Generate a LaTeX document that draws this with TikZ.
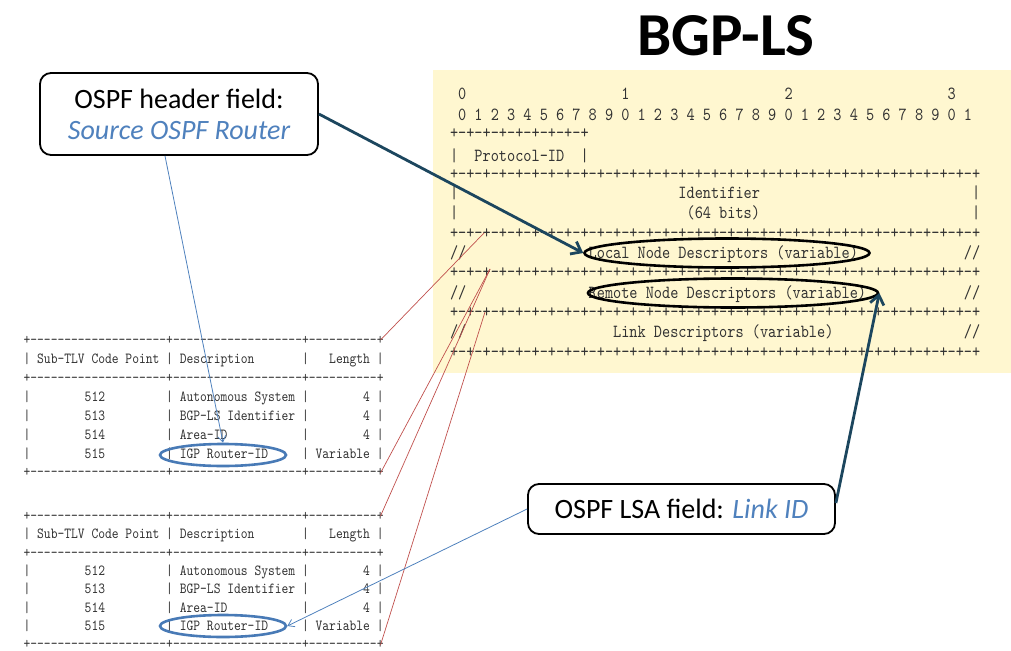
\documentclass[tikz,border=0pt]{standalone}
\usepackage{fontspec}
\setmainfont{Carlito}
\newfontfamily\asciifont{lmmono10-regular.otf}[FakeStretch=0.84,Ligatures=TeXOff]
\usetikzlibrary{shapes.geometric,arrows.meta}

\definecolor{panelyellow}{RGB}{255,247,208}
\definecolor{arrowteal}{RGB}{28,70,94}
\definecolor{linkblue}{RGB}{79,129,189}
\definecolor{ovalblue}{RGB}{72,122,182}
\definecolor{mapred}{RGB}{192,80,77}
\definecolor{asciigray}{RGB}{50,50,50}

% monospaced text: every space is exactly one character cell wide
\newcommand\monoset[1]{\asciifont\fontsize{#1}{#1}\selectfont
  \setbox0=\hbox{0}\fontdimen2\font=\wd0 \fontdimen3\font=0pt \fontdimen4\font=0pt \fontdimen7\font=0pt }
\newcommand\gap[1]{\hspace*{#1\fontdimen2\font}}
\newcommand\bitrule{+-+-+-+-+-+-+-+-+-+-+-+-+-+-+-+-+-+-+-+-+-+-+-+-+-+-+-+-+-+-+-+-+}
\newcommand\tblrule{+--------------------+-------------------+----------+}

\begin{document}
\begin{tikzpicture}[x=1pt,y=-1pt,
  yrow/.style={anchor=base west,inner sep=0pt,outer sep=0pt,text=asciigray,font=\monoset{18.5}},
  trow/.style={anchor=base west,inner sep=0pt,outer sep=0pt,text=asciigray,font=\monoset{15.4}},
  blackoval/.style={draw=black,line width=2.6pt,ellipse,inner sep=0pt},
  blueoval/.style={draw=ovalblue,line width=2.6pt,ellipse,inner sep=0pt},
  callout/.style={draw=black,line width=1.8pt,rounded corners=11pt,fill=white,align=center,inner sep=0pt,font=\fontsize{28}{31}\selectfont},
  bigarrow/.style={draw=arrowteal,line width=2.8pt,-{Straight Barb[length=9pt,width=14pt]}},
  thinarrow/.style={draw=linkblue,line width=0.8pt,-{Straight Barb[length=6pt,width=8pt]}},
  redline/.style={draw=mapred,line width=0.7pt}]
\useasboundingbox (0,0) rectangle (1011,650);

% yellow panel holding the BGP-LS NLRI layout
\fill[panelyellow] (433,70) rectangle (1011,373);
\node[font=\bfseries\fontsize{61}{61}\selectfont] (title) at (726,36) {BGP-LS};

% NLRI bit layout
\node[yrow] (hdrA) at (450,99.5) {\gap{1}0\gap{19}1\gap{19}2\gap{19}3};
\node[yrow] (hdrB) at (450,120.5) {\gap{1}0 1 2 3 4 5 6 7 8 9 0 1 2 3 4 5 6 7 8 9 0 1 2 3 4 5 6 7 8 9 0 1};
\node[yrow] (r1) at (450,138.5) {+-+-+-+-+-+-+-+-+};
\node[yrow] (proto) at (450,161.5) {|\gap{2}Protocol-ID\gap{2}|};
\node[yrow] (r2) at (450,179.5) {\bitrule};
\node[yrow] (ident) at (450,198.5) {|\gap{27}Identifier\gap{26}|};
\node[yrow] (bits) at (450,218.5) {|\gap{28}(64 bits)\gap{26}|};
\node[yrow] (r3) at (450,238.5) {\bitrule};
\node[yrow] (local) at (450,258.5) {//\gap{15}Local Node Descriptors (variable)\gap{13}//};
\node[yrow] (r4) at (450,277.5) {\bitrule};
\node[yrow] (remote) at (450,298.5) {//\gap{15}Remote Node Descriptors (variable)\gap{12}//};
\node[yrow] (r5) at (450,317.5) {\bitrule};
\node[yrow] (link) at (450,337.5) {//\gap{18}Link Descriptors (variable)\gap{16}//};
\node[yrow] (r6) at (450,357.5) {\bitrule};

\node[blackoval,minimum width=285pt,minimum height=29pt] (locEll) at (727,253) {};
\node[blackoval,minimum width=290pt,minimum height=29pt] (remEll) at (733,293) {};

% node descriptor sub-TLV tables
\node[trow] (ta0) at (23.6,344.6) {\tblrule};
\node[trow] (ta1) at (23.6,363.5) {|\gap{1}Sub-TLV Code Point\gap{1}|\gap{1}Description\gap{7}|\gap{3}Length\gap{1}|};
\node[trow] (ta2) at (23.6,382.4) {\tblrule};
\node[trow] (ta3) at (23.6,401.3) {|\gap{8}512\gap{9}|\gap{1}Autonomous System\gap{1}|\gap{8}4\gap{1}|};
\node[trow] (ta4) at (23.6,420.2) {|\gap{8}513\gap{9}|\gap{1}BGP-LS Identifier\gap{1}|\gap{8}4\gap{1}|};
\node[trow] (ta5) at (23.6,439.1) {|\gap{8}514\gap{9}|\gap{1}Area-ID\gap{11}|\gap{8}4\gap{1}|};
\node[trow] (ta6) at (23.6,458.0) {|\gap{8}515\gap{9}|\gap{1}IGP Router-ID\gap{5}|\gap{1}Variable\gap{1}|};
\node[trow] (ta7) at (23.6,476.9) {\tblrule};

\node[trow] (tb0) at (23.6,520.6) {\tblrule};
\node[trow] (tb1) at (23.6,538.9) {|\gap{1}Sub-TLV Code Point\gap{1}|\gap{1}Description\gap{7}|\gap{3}Length\gap{1}|};
\node[trow] (tb2) at (23.6,557.2) {\tblrule};
\node[trow] (tb3) at (23.6,575.5) {|\gap{8}512\gap{9}|\gap{1}Autonomous System\gap{1}|\gap{8}4\gap{1}|};
\node[trow] (tb4) at (23.6,593.8) {|\gap{8}513\gap{9}|\gap{1}BGP-LS Identifier\gap{1}|\gap{8}4\gap{1}|};
\node[trow] (tb5) at (23.6,612.1) {|\gap{8}514\gap{9}|\gap{1}Area-ID\gap{11}|\gap{8}4\gap{1}|};
\node[trow] (tb6) at (23.6,630.4) {|\gap{8}515\gap{9}|\gap{1}IGP Router-ID\gap{5}|\gap{1}Variable\gap{1}|};
\node[trow] (tb7) at (23.6,648.4) {\tblrule};

\node[blueoval,minimum width=126pt,minimum height=22pt] (igpA) at (223,455) {};
\node[blueoval,minimum width=126pt,minimum height=22pt] (igpB) at (223,626) {};

% table corners mapped onto the NLRI rows
\coordinate (taTop) at (380.5,340);
\coordinate (taBot) at (380.5,473);
\coordinate (tbTop) at (380.5,516);
\coordinate (tbBot) at (380.5,645);
\coordinate (mLocal) at (484,233);
\coordinate (mRemote) at (490,269);
\coordinate (mLink) at (485,312);
\draw[redline] (taTop) -- (mLocal);
\draw[redline] (taBot) -- (mRemote);
\draw[redline] (tbTop) -- (mRemote);
\draw[redline] (tbBot) -- (mLink);

% callouts
\node[callout,minimum width=278pt,minimum height=82pt] (box1) at (179,114)
  {OSPF header field:\\\textcolor{linkblue}{\itshape Source OSPF Router}};
\node[callout,minimum width=307pt,minimum height=50pt] (box2) at (681.5,509)
  {OSPF LSA field: \textcolor{linkblue}{\itshape Link ID}};

\draw[bigarrow] (box1.east) -- (locEll.west);
\draw[bigarrow] ([yshift=6pt]box2.east) -- (remEll.east);
\draw[thinarrow] ([xshift=-14pt]box1.south) -- (igpA.north);
\draw[thinarrow] (box2.west) -- (igpB.east);
\end{tikzpicture}
\end{document}
